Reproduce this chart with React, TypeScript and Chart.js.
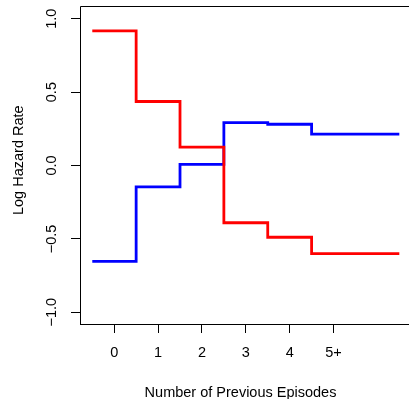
import React, { useEffect, useRef } from "react";
import { Chart, registerables } from "chart.js";

Chart.register(...registerables);

// ---- data ----
const categories = ["0", "1", "2", "3", "4", "5+"];
const redValues = [0.918, 0.436, 0.125, -0.39, -0.489, -0.6];
const blueValues = [-0.653, -0.146, 0.007, 0.292, 0.281, 0.214];
const yTickValues = [-1, -0.5, 0, 0.5, 1];
const yTickLabels = ["\u22121.0", "\u22120.5", "0.0", "0.5", "1.0"];
const xTitle = "Number of Previous Episodes";
const yTitle = "Log Hazard Rate";
const lastCategorySpan = 2; // "5+" is open-ended

const FONT = "'Liberation Sans', Arial, Helvetica, sans-serif";
const FS = 14.5;

function stepPoints(values: number[]) {
  const pts = values.map((v, i) => ({ x: i - 0.5, y: v }));
  pts.push({ x: values.length - 1 - 0.5 + lastCategorySpan, y: values[values.length - 1] });
  return pts;
}

const framePlugin = {
  id: "frameAndTitles",
  afterDraw(chart: any) {
    const { ctx, chartArea } = chart;
    const { left, right, top, bottom } = chartArea;
    ctx.save();
    ctx.strokeStyle = "#000";
    ctx.lineWidth = 1;
    ctx.beginPath();
    ctx.moveTo(Math.round(left) + 0.5, Math.round(bottom) + 0.5);
    ctx.lineTo(Math.round(left) + 0.5, Math.round(top) - 0.5);
    ctx.lineTo(Math.round(right) + 0.5, Math.round(top) - 0.5);
    ctx.lineTo(Math.round(right) + 0.5, Math.round(bottom) + 0.5);
    ctx.stroke();

    ctx.fillStyle = "#000";
    ctx.font = `${FS}px ${FONT}`;
    ctx.textAlign = "center";
    ctx.textBaseline = "alphabetic";
    const cx = (left + right) / 2 - 5.3;
    ctx.fillText(xTitle, cx, bottom + 72.7);

    const cy = (top + bottom) / 2 - 5.3;
    ctx.translate(left - 57, cy);
    ctx.rotate(-Math.PI / 2);
    ctx.fillText(yTitle, 0, 0);
    ctx.restore();
  },
};

export default function App() {
  const ref = useRef<HTMLCanvasElement | null>(null);

  useEffect(() => {
    if (!ref.current) return;
    const chart = new Chart(ref.current, {
      type: "line",
      data: {
        datasets: [
          {
            label: "red",
            data: stepPoints(redValues),
            borderColor: "#ff0000",
            borderWidth: 2.8,
            stepped: true,
            pointRadius: 0,
            fill: false,
          },
          {
            label: "blue",
            data: stepPoints(blueValues),
            borderColor: "#0000ff",
            borderWidth: 2.8,
            stepped: true,
            pointRadius: 0,
            fill: false,
          },
        ],
      },
      options: {
        animation: false,
        responsive: false,
        devicePixelRatio: 1,
        layout: { padding: { top: 7, right: 8.4, left: 0, bottom: 0 } },
        plugins: { legend: { display: false }, tooltip: { enabled: false } },
        scales: {
          x: {
            type: "linear",
            position: "bottom",
            min: -0.78,
            max: 6.78,
            afterBuildTicks: (s: any) => {
              s.ticks = categories.map((_, i) => ({ value: i }));
            },
            afterFit: (s: any) => {
              s.height = 75;
              s.paddingLeft = 0;
              s.paddingRight = 0;
            },
            grid: {
              display: true,
              drawOnChartArea: false,
              drawTicks: true,
              tickLength: 9,
              color: "#000",
              lineWidth: 1,
            },
            border: { display: true, color: "#000", width: 1 },
            ticks: {
              color: "#000",
              font: { family: FONT, size: FS },
              padding: 11,
              maxRotation: 0,
              autoSkip: false,
              callback: (v: any) => categories[Math.round(Number(v))] ?? "",
            },
          },
          y: {
            type: "linear",
            position: "left",
            min: -1.08,
            max: 1.08,
            afterBuildTicks: (s: any) => {
              s.ticks = yTickValues.map((v) => ({ value: v }));
            },
            afterFit: (s: any) => {
              s.width = 80;
              s.paddingTop = 0;
              s.paddingBottom = 0;
            },
            grid: {
              display: true,
              drawOnChartArea: false,
              drawTicks: true,
              tickLength: 9,
              color: "#000",
              lineWidth: 1,
            },
            border: { display: true, color: "#000", width: 1 },
            ticks: {
              color: "#000",
              font: { family: FONT, size: FS },
              padding: 4.7,
              minRotation: 90,
              maxRotation: 90,
              crossAlign: "center",
              autoSkip: false,
              callback: (v: any) => {
                const i = yTickValues.findIndex((t) => Math.abs(t - Number(v)) < 1e-9);
                return i >= 0 ? yTickLabels[i] : "";
              },
            },
          },
        },
      },
      plugins: [framePlugin],
    });
    return () => chart.destroy();
  }, []);

  return (
    <div style={{ position: "fixed", left: 0, top: 0, width: 420, height: 399, background: "#fff" }}>
      <canvas ref={ref} width={420} height={399} style={{ display: "block" }} />
    </div>
  );
}
